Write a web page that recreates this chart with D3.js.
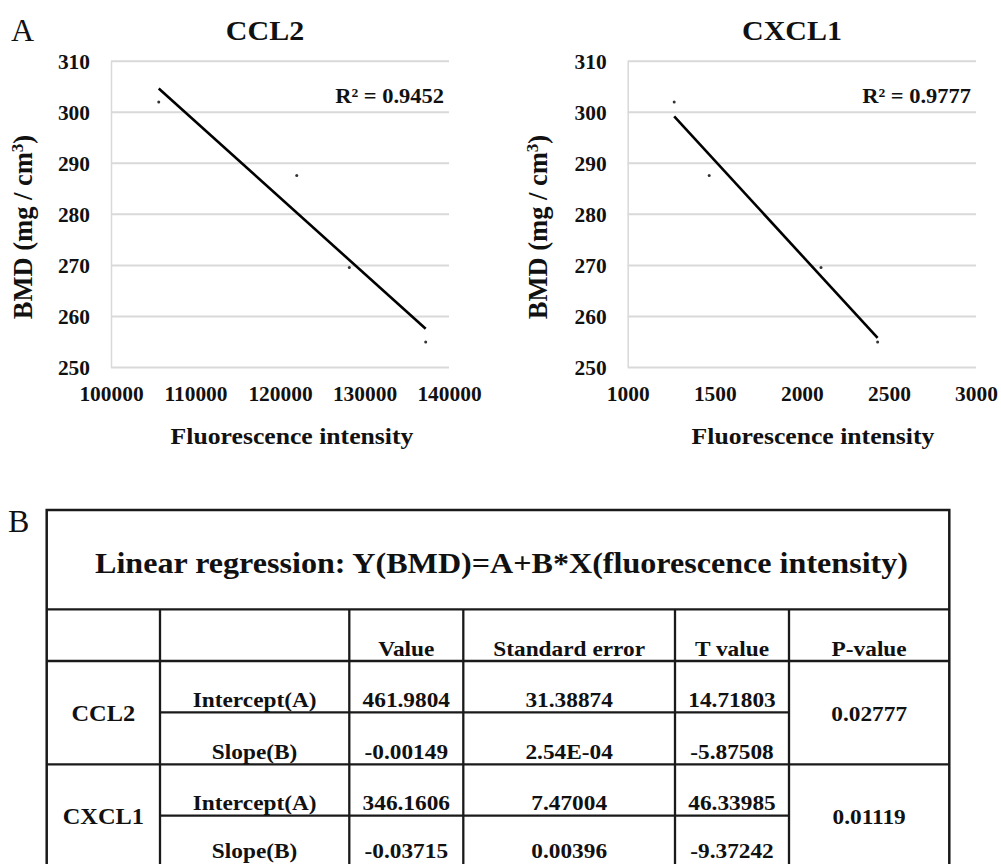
<!DOCTYPE html>
<html>
<head>
<meta charset="utf-8">
<script src="https://cdn.jsdelivr.net/npm/d3@7"></script>
<style>
  body { margin: 0; background: #fff; }
  text { font-family: "Liberation Serif", "Times New Roman", serif; fill: #111; }
</style>
</head>
<body>
<svg width="1001" height="864"></svg>
<script>
// ---- data ----
var bmd = [301.9, 287.5, 269.5, 254.9];
var ccl2X = [105650, 121980, 128200, 137240];
var cxcl1X = [1267, 1468, 2110, 2435];
var ccl2Ticks = [100000, 110000, 120000, 130000, 140000];
var cxcl1Ticks = [1000, 1500, 2000, 2500, 3000];
var bmdTicks = [250, 260, 270, 280, 290, 300, 310];
var chartTitles = ["CCL2", "CXCL1"];
var r2Labels = ["R\u00b2 = 0.9452", "R\u00b2 = 0.9777"];

// regression table
var tableTitle = "Linear regression: Y(BMD)=A+B*X(fluorescence intensity)";
var headers = ["", "", "Value", "Standard error", "T value", "P-value"];
var groups = ["CCL2", "CXCL1"];
var params = ["Intercept(A)", "Slope(B)"];
var values = [["461.9804", "-0.00149"], ["346.1606", "-0.03715"]];
var stdErrors = [["31.38874", "2.54E-04"], ["7.47004", "0.00396"]];
var tValues = [["14.71803", "-5.87508"], ["46.33985", "-9.37242"]];
var pValues = ["0.02777", "0.01119"];
var intercepts = [461.9804, 346.1606];
var slopes = [-0.00149, -0.03715];

var svg = d3.select("svg");
var grid = "#d9d9d9";

// the original image is a bit wider than tall, so stretch text a little
function stretch(sel, k) {
  sel.each(function () {
    var L = this.getComputedTextLength();
    d3.select(this).attr("textLength", L * k).attr("lengthAdjust", "spacingAndGlyphs");
  });
}

svg.append("text").attr("x", 11).attr("y", 40.5)
  .style("font-size", "32px").text("A");

var charts = [
  {left: 111, right: 449, xs: ccl2X, ticks: ccl2Ticks, titleX: 265, xTitleX: 292, yTitleX: 31.7, i: 0},
  {left: 627.7, right: 976, xs: cxcl1X, ticks: cxcl1Ticks, titleX: 792, xTitleX: 813, yTitleX: 546.7, i: 1}
];

var y = d3.scaleLinear().domain([250, 310]).range([367, 60.7]);

charts.forEach(function (c) {
  var x = d3.scaleLinear().domain(d3.extent(c.ticks)).range([c.left, c.right]);
  var g = svg.append("g");

  var yAxis = g.append("g")
    .attr("transform", "translate(" + c.left + ",0)")
    .call(d3.axisLeft(y).tickValues(bmdTicks).tickSize(-(c.right - c.left)).tickSizeOuter(0).tickPadding(21));
  yAxis.select(".domain").attr("stroke", grid).attr("stroke-width", 1.5);
  yAxis.selectAll(".tick line").attr("stroke", grid).attr("stroke-width", 2);
  yAxis.selectAll("text").attr("font-family", null).attr("font-size", null)
    .style("font-size", "20px").style("font-weight", "bold").attr("dy", "0.38em");

  var xAxis = g.append("g")
    .attr("transform", "translate(0,367)")
    .call(d3.axisBottom(x).tickValues(c.ticks).tickSize(0).tickPadding(20).tickFormat(d3.format("d")));
  xAxis.select(".domain").remove();
  xAxis.selectAll("text").attr("font-family", null).attr("font-size", null)
    .style("font-size", "20px").style("font-weight", "bold");

  stretch(yAxis.selectAll("text"), 1.07);
  stretch(xAxis.selectAll("text"), 1.07);

  // trendline from the table's intercept and slope
  var ext = d3.extent(c.xs);
  g.append("line")
    .attr("x1", x(ext[0])).attr("y1", y(intercepts[c.i] + slopes[c.i] * ext[0]))
    .attr("x2", x(ext[1])).attr("y2", y(intercepts[c.i] + slopes[c.i] * ext[1]))
    .attr("stroke", "#000").attr("stroke-width", 2.6);

  g.selectAll(".dot").data(c.xs).enter().append("circle")
    .attr("class", "dot")
    .attr("cx", function (d) { return x(d); })
    .attr("cy", function (d, j) { return y(bmd[j]); })
    .attr("r", 1.5).attr("fill", "#333");

  var t = g.append("text").attr("x", c.titleX).attr("y", 40).attr("text-anchor", "middle")
    .style("font-size", "28px").style("font-weight", "bold").text(chartTitles[c.i]);
  stretch(t, 1.07);

  var r = g.append("text").attr("x", c.right - 5).attr("y", 103.3).attr("text-anchor", "end")
    .style("font-size", "21px").style("font-weight", "bold").text(r2Labels[c.i]);
  stretch(r, 1.07);

  var xt = g.append("text").attr("x", c.xTitleX).attr("y", 444).attr("text-anchor", "middle")
    .style("font-size", "24px").style("font-weight", "bold").text("Fluorescence intensity");
  stretch(xt, 1.07);

  var yt = g.append("text")
    .attr("transform", "translate(" + c.yTitleX + ",227) rotate(-90)")
    .attr("text-anchor", "middle")
    .style("font-size", "26.5px").style("font-weight", "bold");
  yt.append("tspan").text("BMD (mg / cm");
  yt.append("tspan").attr("baseline-shift", "super").style("font-size", "17px").text("3");
  yt.append("tspan").text(")");
});

// ---- table (panel B) ----
svg.append("text").attr("x", 8).attr("y", 532)
  .style("font-size", "32px").text("B");

var cols = [46.7, 160, 349.3, 463.3, 675, 789, 949.3];
var rows = [510, 609.3, 661, 712.3, 764.3, 815.7, 867];
var tg = svg.append("g");
var ink = "#1a1a1a";

function hline(x1, x2, yy) {
  tg.append("line").attr("x1", x1).attr("x2", x2).attr("y1", yy).attr("y2", yy)
    .attr("stroke", ink).attr("stroke-width", 2.3);
}
function vline(xx, y1, y2) {
  tg.append("line").attr("x1", xx).attr("x2", xx).attr("y1", y1).attr("y2", y2)
    .attr("stroke", ink).attr("stroke-width", 2.3);
}
tg.append("rect").attr("x", cols[0]).attr("y", rows[0])
  .attr("width", cols[6] - cols[0]).attr("height", rows[6] - rows[0])
  .attr("fill", "none").attr("stroke", ink).attr("stroke-width", 2.5);
hline(cols[0], cols[6], rows[1]);
hline(cols[0], cols[6], rows[2]);
hline(cols[0], cols[6], rows[4]);
hline(cols[1], cols[5], rows[3]);
hline(cols[1], cols[5], rows[5]);
for (var k = 1; k < 6; k++) vline(cols[k], rows[1], rows[6]);

function cell(txt, cx, by, size) {
  var t = tg.append("text").attr("x", cx).attr("y", by).attr("text-anchor", "middle")
    .style("font-size", (size || 22) + "px").style("font-weight", "bold").text(txt);
  stretch(t, 1.06);
  return t;
}
function mid(k) { return (cols[k] + cols[k + 1]) / 2; }

// title stretched to the width it has in the figure
var tt = tg.append("text").attr("x", 501.5).attr("y", 573).attr("text-anchor", "middle")
  .style("font-size", "28.5px").style("font-weight", "bold").text(tableTitle)
  .attr("textLength", 813).attr("lengthAdjust", "spacingAndGlyphs");

headers.forEach(function (h, k) { if (h) cell(h, mid(k), rows[2] - 5.3); });

groups.forEach(function (gname, gi) {
  var top = rows[2 + gi * 2], bot = rows[4 + gi * 2];
  var cy = (top + bot) / 2 + 8;
  cell(gname, mid(0), cy, 23);
  cell(pValues[gi], mid(5), cy);
  params.forEach(function (p, pi) {
    var by = Math.min(rows[3 + gi * 2 + pi] - 5.5, 858);
    cell(p, mid(1), by);
    cell(values[gi][pi], mid(2), by);
    cell(stdErrors[gi][pi], mid(3), by);
    cell(tValues[gi][pi], mid(4), by);
  });
});
</script>
</body>
</html>
